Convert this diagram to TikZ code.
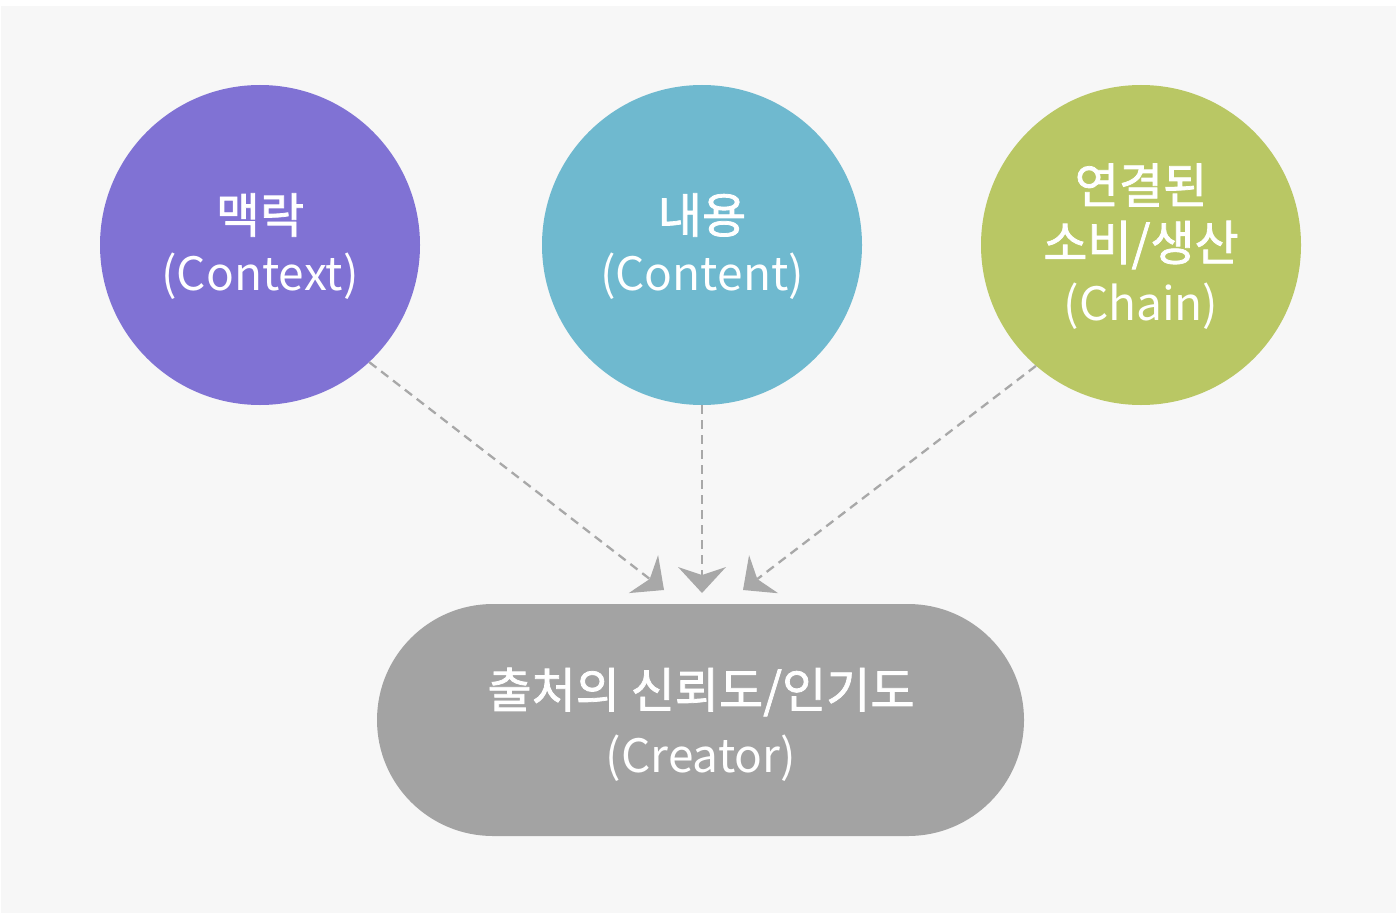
\documentclass[tikz,border=0pt]{standalone}
\usepackage{fontspec}
\setmainfont{Noto Sans CJK KR}
\newfontfamily\krb[FakeBold=1.6]{Noto Sans CJK KR}
\usetikzlibrary{arrows.meta,shapes.misc}
\definecolor{bgc}{HTML}{F7F7F7}
\definecolor{purp}{HTML}{8072D4}
\definecolor{teal}{HTML}{6FB9CF}
\definecolor{olive}{HTML}{B9C764}
\definecolor{pill}{HTML}{A3A3A3}
\definecolor{lin}{HTML}{A8A8A8}
\tikzset{
  circ/.style={circle, minimum size=320pt, inner sep=0pt},
  pillbox/.style={rounded rectangle, minimum width=647pt, minimum height=232pt, inner sep=0pt, fill=pill},
  krtxt/.style={text=white, inner sep=0pt, font=\fontsize{48}{60}\selectfont\krb},
  entxt/.style={text=white, inner sep=0pt, font=\fontsize{46}{60}\selectfont},
  conn/.style={draw=lin, line width=2.3pt, dash pattern=on 9pt off 6pt, -{Stealth[length=26pt,width=48pt,inset=8pt,fill=lin,line width=0pt]}}
}
\begin{document}
\begin{tikzpicture}[x=1pt,y=-1pt]
\useasboundingbox (0,0) rectangle (1396,920);
\fill[white] (0,0) rectangle (1396,920);
\fill[bgc] (1,6) rectangle (1396,913);
\node[circ, fill=purp] (ctx) at (260,245) {};
\node[circ, fill=teal] (cnt) at (702,245) {};
\node[circ, fill=olive] (chn) at (1141,245) {};
\node[pillbox] (cre) at (700.5,720) {};
\node[krtxt] (t1a) at (260,215) {맥락};
\node[entxt] (t1b) at (260,276) {(Context)};
\node[krtxt] (t2a) at (702,215) {내용};
\node[entxt] (t2b) at (702,276) {(Content)};
\node[krtxt] (t3a) at (1141,185) {연결된};
\node[krtxt] (t3b) at (1141,245) {소비/생산};
\node[entxt] (t3c) at (1141,306) {(Chain)};
\node[krtxt] (t4a) at (701,692) {출처의 신뢰도/인기도};
\node[entxt] (t4b) at (701,758) {(Creator)};
\coordinate (tipL) at (664,590);
\coordinate (tipM) at (702,593);
\coordinate (tipR) at (743,590);
\draw[conn] (ctx.-47) -- (tipL);
\draw[conn] (cnt.south) -- (tipM);
\draw[conn] (chn.-131) -- (tipR);
\end{tikzpicture}
\end{document}
